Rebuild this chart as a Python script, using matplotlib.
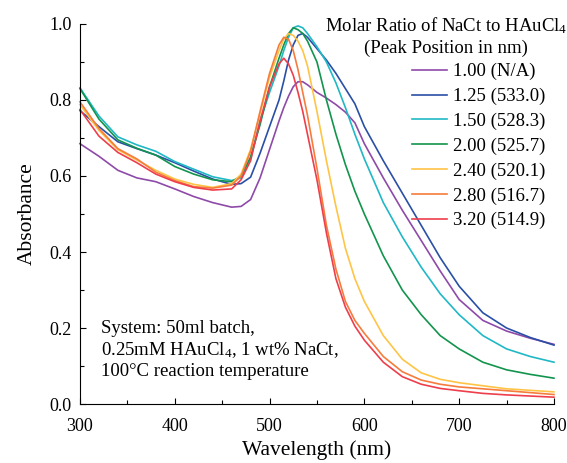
import matplotlib
matplotlib.use("Agg")
import matplotlib.pyplot as plt
from matplotlib.ticker import MultipleLocator

plt.rcParams['font.family'] = ['Liberation Serif', 'DejaVu Serif']
plt.rcParams['mathtext.default'] = 'regular'

# wavelength grid (nm) and absorbance
wavelength = [300, 320, 340, 360, 380, 400, 420, 440, 460, 470, 480, 490, 500, 510, 515, 520,
              525, 530, 535, 540, 550, 560, 570, 580, 590, 600, 620, 640, 660, 680, 700, 725,
              750, 775, 800]

r100 = [0.685, 0.652, 0.615, 0.595, 0.585, 0.566, 0.546, 0.53, 0.518, 0.52, 0.538, 0.595, 0.67,
        0.745, 0.78, 0.81, 0.835, 0.848, 0.848, 0.84, 0.82, 0.805, 0.788, 0.768, 0.74, 0.685,
        0.595, 0.51, 0.43, 0.35, 0.275, 0.22, 0.192, 0.173, 0.157]
r125 = [0.772, 0.73, 0.69, 0.672, 0.655, 0.635, 0.613, 0.592, 0.578, 0.58, 0.597, 0.66, 0.73,
        0.80, 0.85, 0.905, 0.945, 0.97, 0.975, 0.965, 0.935, 0.905, 0.87, 0.83, 0.79, 0.73,
        0.64, 0.555, 0.47, 0.385, 0.31, 0.24, 0.2, 0.175, 0.155]
r150 = [0.832, 0.758, 0.703, 0.682, 0.665, 0.638, 0.618, 0.598, 0.588, 0.595, 0.645, 0.745, 0.82,
        0.89, 0.93, 0.965, 0.99, 0.995, 0.99, 0.975, 0.94, 0.9, 0.845, 0.78, 0.71, 0.645,
        0.53, 0.44, 0.36, 0.29, 0.235, 0.18, 0.145, 0.125, 0.11]
r200 = [0.83, 0.75, 0.695, 0.673, 0.655, 0.625, 0.605, 0.59, 0.585, 0.6, 0.65, 0.735, 0.835,
        0.91, 0.945, 0.975, 0.99, 0.985, 0.975, 0.955, 0.9, 0.8, 0.71, 0.63, 0.56, 0.5,
        0.39, 0.3, 0.235, 0.18, 0.145, 0.11, 0.09, 0.078, 0.068]
r240 = [0.788, 0.72, 0.669, 0.642, 0.615, 0.592, 0.578, 0.57, 0.58, 0.605, 0.67, 0.765, 0.86,
        0.93, 0.96, 0.975, 0.97, 0.955, 0.93, 0.89, 0.77, 0.64, 0.52, 0.41, 0.33, 0.27,
        0.18, 0.118, 0.082, 0.065, 0.056, 0.048, 0.04, 0.036, 0.032]
r280 = [0.795, 0.725, 0.672, 0.645, 0.61, 0.588, 0.572, 0.568, 0.576, 0.6, 0.665, 0.77, 0.87,
        0.945, 0.965, 0.96, 0.93, 0.88, 0.82, 0.76, 0.62, 0.47, 0.355, 0.27, 0.22, 0.186,
        0.125, 0.085, 0.063, 0.052, 0.045, 0.04, 0.035, 0.03, 0.025]
r320 = [0.775, 0.705, 0.662, 0.635, 0.605, 0.585, 0.57, 0.563, 0.566, 0.59, 0.64, 0.745, 0.835,
        0.895, 0.91, 0.895, 0.865, 0.82, 0.77, 0.71, 0.59, 0.45, 0.33, 0.255, 0.205, 0.168,
        0.11, 0.072, 0.052, 0.041, 0.035, 0.028, 0.024, 0.021, 0.018]

series = [r100, r125, r150, r200, r240, r280, r320]
labels = ['1.00 (N/A)', '1.25 (533.0)', '1.50 (528.3)', '2.00 (525.7)',
          '2.40 (520.1)', '2.80 (516.7)', '3.20 (514.9)']
colors = ['#8e4aa8', '#2a4fa6', '#20b8c6', '#12944e', '#ffc445', '#f57c3c', '#ee3e4c']

fig = plt.figure(figsize=(5.67, 4.63), dpi=100)
ax = fig.add_axes([0.141, 0.1274, 0.836, 0.8208])

for y, lab, col in zip(series, labels, colors):
    ax.plot(wavelength, y, color=col, lw=1.2, label=lab, clip_on=False)

ax.set_xlim(300, 800)
ax.set_ylim(0, 1.0)
ax.xaxis.set_major_locator(MultipleLocator(100))
ax.xaxis.set_minor_locator(MultipleLocator(50))
ax.yaxis.set_major_locator(MultipleLocator(0.2))
ax.yaxis.set_minor_locator(MultipleLocator(0.1))
ax.yaxis.set_major_formatter(plt.FuncFormatter(lambda v, p: f'{v:.1f}'))
ax.tick_params(which='both', direction='in', labelsize=13, width=0.8)
ax.tick_params(which='major', length=4.5)
ax.tick_params(which='minor', length=3)
ax.tick_params(axis='x', which='major', pad=10)
ax.tick_params(axis='y', which='major', pad=6)
for s in ['top', 'right']:
    ax.spines[s].set_visible(False)

ax.set_xlabel('Wavelength (nm)', fontsize=15.5, labelpad=4)
ax.set_ylabel('Absorbance', fontsize=15.5, labelpad=9)

ax.text(0.772, 0.995, 'Molar Ratio of NaCt to HAuCl$_4$', transform=ax.transAxes,
        ha='center', va='center', fontsize=13.5)
ax.text(0.772, 0.937, '(Peak Position in nm)', transform=ax.transAxes,
        ha='center', va='center', fontsize=13.5)

ax.legend(loc='upper left', bbox_to_anchor=(0.70, 0.897), frameon=False, fontsize=13.5,
          handlelength=1.9, handletextpad=0.3, labelspacing=0.40, borderpad=0,
          borderaxespad=0)

ax.text(0.044, 0.222, 'System: 50ml batch,\n0.25mM HAuCl$_4$, 1 wt% NaCt,\n100°C reaction temperature',
        transform=ax.transAxes, ha='left', va='top', fontsize=13.5, linespacing=1.25)

fig.savefig('out.png', dpi=100)
